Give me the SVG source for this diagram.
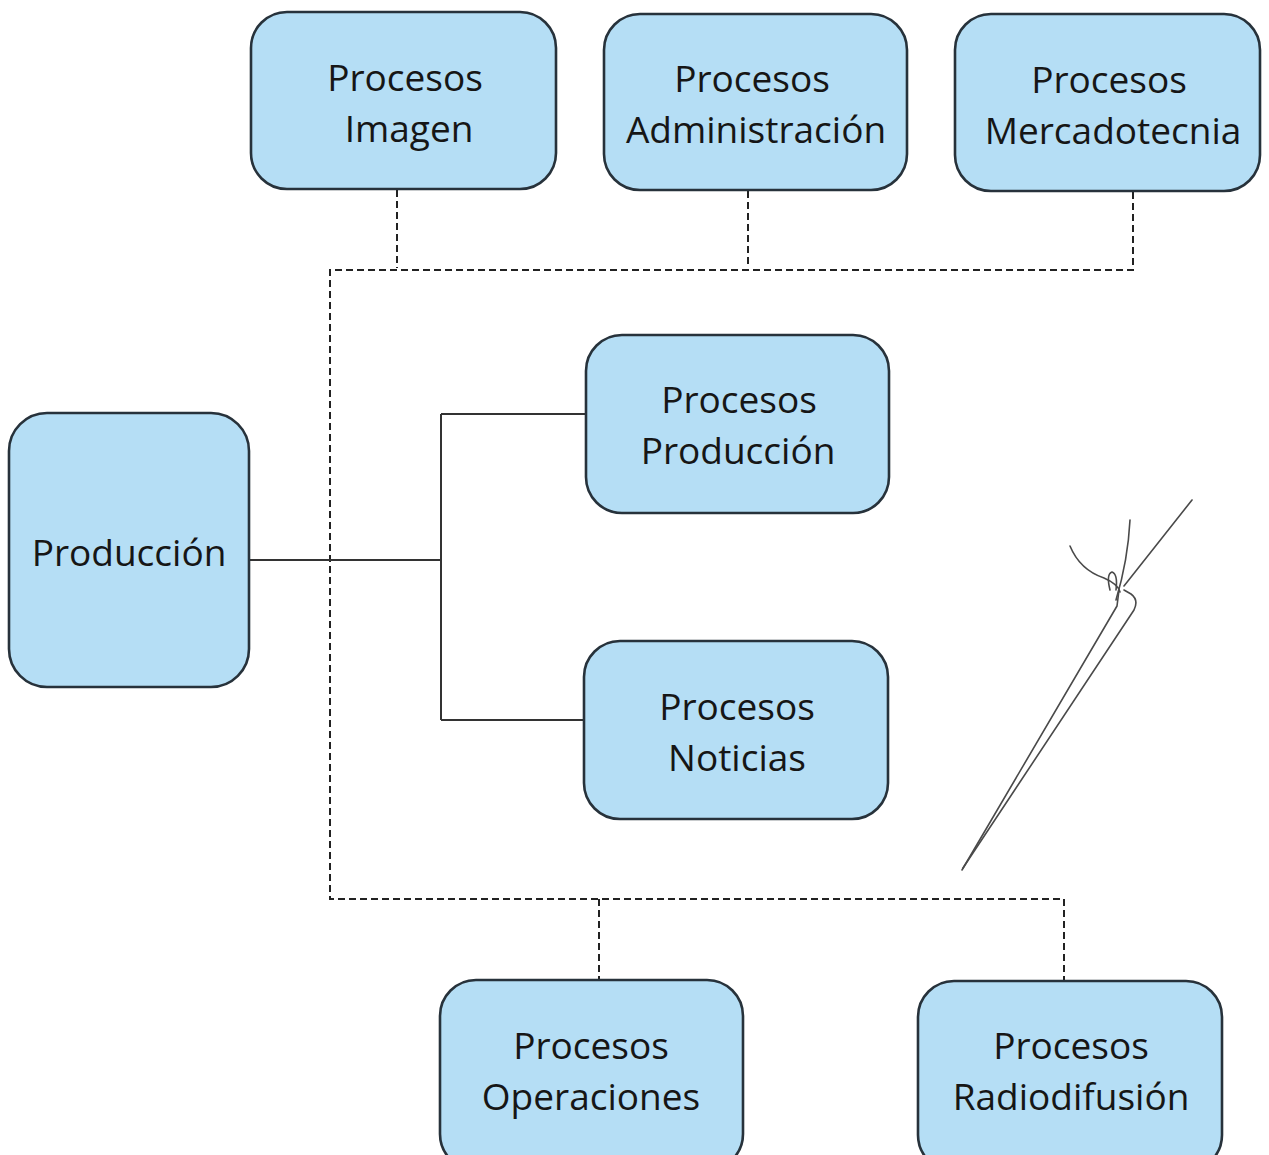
<svg xmlns="http://www.w3.org/2000/svg" width="1269" height="1155" viewBox="0 0 1269 1155">
<style>
.box{fill:#b5def5;stroke:#27323b;stroke-width:2.6}
.t{font-family:"Open Sans","Noto Sans","Liberation Sans",sans-serif;font-size:37px;font-weight:500;fill:#161616;text-anchor:middle}
.dash{fill:none;stroke:#222;stroke-width:2;stroke-dasharray:7 4}
.solid{fill:none;stroke:#333;stroke-width:2}
.sig{fill:none;stroke:#4a4a4a;stroke-width:1.6;stroke-linecap:round;stroke-linejoin:round}
</style>
<rect width="1269" height="1155" fill="#ffffff"/>
<g id="connectors">
<path class="dash" d="M397 190 V268 M748 191 V268 M1133 192 V270 H330 V899 H1064 V981 M599 899 V980"/>
<path class="solid" d="M249 560 H441 M441 414 V720 M441 414 H586 M441 720 H584"/>
</g>
<g id="n-imagen">
<rect class="box" x="251" y="12" width="305" height="177" rx="36"/>
<text class="t" x="405" y="91">Procesos</text>
<text class="t" x="409" y="142">Imagen</text>
</g>
<g id="n-administracion">
<rect class="box" x="604" y="14" width="303" height="176" rx="36"/>
<text class="t" x="752" y="92">Procesos</text>
<text class="t" x="756" y="143">Administración</text>
</g>
<g id="n-mercadotecnia">
<rect class="box" x="955" y="14" width="305" height="177" rx="36"/>
<text class="t" x="1109" y="93">Procesos</text>
<text class="t" x="1113" y="144">Mercadotecnia</text>
</g>
<g id="n-proc-produccion">
<rect class="box" x="586" y="335" width="303" height="178" rx="36"/>
<text class="t" x="739" y="413">Procesos</text>
<text class="t" x="738" y="464">Producción</text>
</g>
<g id="n-noticias">
<rect class="box" x="584" y="641" width="304" height="178" rx="36"/>
<text class="t" x="737" y="720">Procesos</text>
<text class="t" x="737" y="771">Noticias</text>
</g>
<g id="n-produccion">
<rect class="box" x="9" y="413" width="240" height="274" rx="38"/>
<text class="t" x="129" y="566">Producción</text>
</g>
<g id="n-operaciones">
<rect class="box" x="440" y="980" width="303" height="190" rx="36"/>
<text class="t" x="591" y="1059">Procesos</text>
<text class="t" x="591" y="1110">Operaciones</text>
</g>
<g id="n-radiodifusion">
<rect class="box" x="918" y="981" width="304" height="190" rx="36"/>
<text class="t" x="1071" y="1059">Procesos</text>
<text class="t" x="1071" y="1110">Radiodifusión</text>
</g>
<g id="signature">
<path class="sig" d="M962 870 L1117 606 L1119 590"/>
<path class="sig" d="M963 868 L1134 610 Q1139 600 1131 594 L1124 590"/>
<path class="sig" d="M1124 586 L1192 500" stroke-width="1"/>
<path class="sig" d="M1070 546 Q1080 570 1104 578 Q1118 584 1120 592"/>
<path class="sig" d="M1130 520 Q1128 560 1116 600"/>
<path class="sig" d="M1110 590 Q1106 574 1112 572 Q1118 574 1116 590"/>
</g>
</svg>
